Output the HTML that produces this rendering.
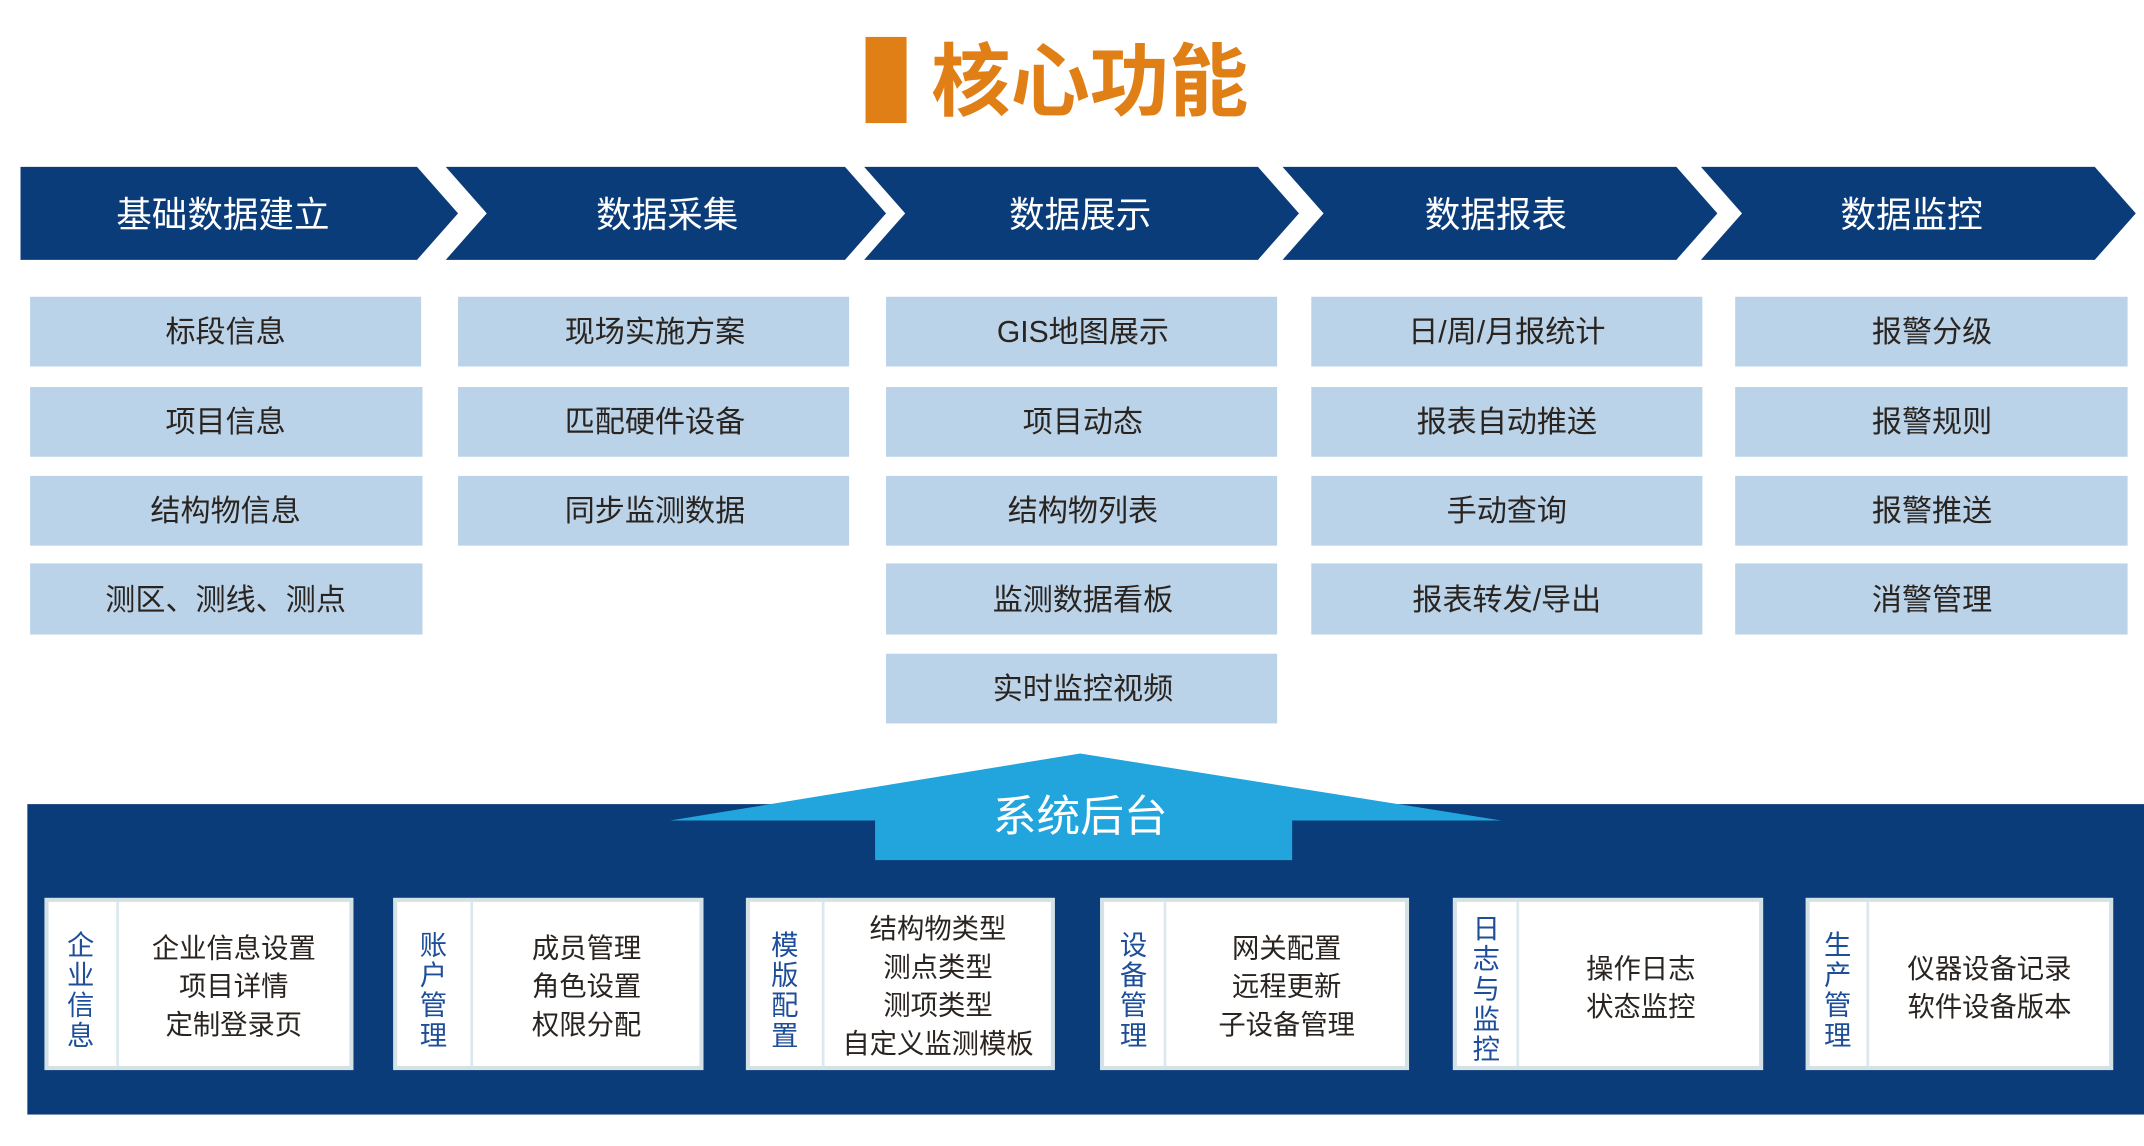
<!DOCTYPE html>
<html><head><meta charset="utf-8">
<style>
html,body{margin:0;padding:0;background:#fff;width:2144px;height:1146px;overflow:hidden}
svg{display:block}
text{font-family:"Liberation Sans","Noto Sans CJK SC",sans-serif}
</style></head><body>
<svg width="2144" height="1146" viewBox="0 0 1568 838" preserveAspectRatio="none" xmlns="http://www.w3.org/2000/svg">
<rect x="0" y="0" width="1568" height="838" fill="#fff"/>
<!-- title -->
<rect x="633" y="27" width="30" height="63" fill="#E07F16"/>
<text x="797" y="80" font-size="58" font-weight="bold" fill="#E07F16" text-anchor="middle">核心功能</text>
<!-- chevrons -->
<g fill="#0B3C7A">
<polygon points="15,122 305,122 335,156 305,190 15,190"/>
<polygon points="326,122 618,122 648,156 618,190 326,190 356,156"/>
<polygon points="632,122 920,122 950,156 920,190 632,190 662,156"/>
<polygon points="938,122 1226,122 1256,156 1226,190 938,190 968,156"/>
<polygon points="1244,122 1532,122 1562,156 1532,190 1244,190 1274,156"/>
</g>
<g fill="#fff" font-size="26" text-anchor="middle">
<text x="163" y="166">基础数据建立</text>
<text x="488" y="166">数据采集</text>
<text x="790" y="166">数据展示</text>
<text x="1094" y="166">数据报表</text>
<text x="1398" y="166">数据监控</text>
</g>
<!-- light boxes -->
<g fill="#BBD3E8">
<rect x="22" y="217" width="286" height="51"/><rect x="22" y="283" width="287" height="51"/><rect x="22" y="348" width="287" height="51"/><rect x="22" y="412" width="287" height="52"/>
<rect x="335" y="217" width="286" height="51"/><rect x="335" y="283" width="286" height="51"/><rect x="335" y="348" width="286" height="51"/>
<rect x="648" y="217" width="286" height="51"/><rect x="648" y="283" width="286" height="51"/><rect x="648" y="348" width="286" height="51"/><rect x="648" y="412" width="286" height="52"/><rect x="648" y="478" width="286" height="51"/>
<rect x="959" y="217" width="286" height="51"/><rect x="959" y="283" width="286" height="51"/><rect x="959" y="348" width="286" height="51"/><rect x="959" y="412" width="286" height="52"/>
<rect x="1269" y="217" width="287" height="51"/><rect x="1269" y="283" width="287" height="51"/><rect x="1269" y="348" width="287" height="51"/><rect x="1269" y="412" width="287" height="52"/>
</g>
<g fill="#2a2420" font-size="22" text-anchor="middle">
<text x="165" y="250">标段信息</text><text x="165" y="316">项目信息</text><text x="165" y="381">结构物信息</text><text x="165" y="446">测区、测线、测点</text>
<text x="479" y="250">现场实施方案</text><text x="479" y="316">匹配硬件设备</text><text x="479" y="381">同步监测数据</text>
<text x="792" y="250">GIS地图展示</text><text x="792" y="316">项目动态</text><text x="792" y="381">结构物列表</text><text x="792" y="446">监测数据看板</text><text x="792" y="511">实时监控视频</text>
<text x="1102" y="250">日/周/月报统计</text><text x="1102" y="316">报表自动推送</text><text x="1102" y="381">手动查询</text><text x="1102" y="446">报表转发/导出</text>
<text x="1413" y="250">报警分级</text><text x="1413" y="316">报警规则</text><text x="1413" y="381">报警推送</text><text x="1413" y="446">消警管理</text>
</g>
<!-- bottom panel -->
<rect x="20" y="588" width="1548" height="227" fill="#0B3C7A"/>
<polygon points="490,600 790,551 1098,600 945,600 945,629 640,629 640,600" fill="#22A4DC"/>
<text x="790" y="608" font-size="32" fill="#fff" text-anchor="middle">系统后台</text>
<!-- sub boxes -->
<g stroke="#D4E2E8" stroke-width="3">
<rect x="34" y="658" width="223" height="123" fill="#fff"/>
<rect x="289" y="658" width="224" height="123" fill="#fff"/>
<rect x="547" y="658" width="223" height="123" fill="#fff"/>
<rect x="806" y="658" width="223" height="123" fill="#fff"/>
<rect x="1064" y="658" width="224" height="123" fill="#fff"/>
<rect x="1322" y="658" width="222" height="123" fill="#fff"/>
</g>
<g stroke="#DCE8EE" stroke-width="2">
<line x1="86" y1="659" x2="86" y2="780"/>
<line x1="345" y1="659" x2="345" y2="780"/>
<line x1="602" y1="659" x2="602" y2="780"/>
<line x1="852" y1="659" x2="852" y2="780"/>
<line x1="1110" y1="659" x2="1110" y2="780"/>
<line x1="1366" y1="659" x2="1366" y2="780"/>
</g>
<g fill="#1E4E9A" font-size="20" text-anchor="middle">
<text x="59" y="698">企</text><text x="59" y="720">业</text><text x="59" y="742">信</text><text x="59" y="764">息</text>
<text x="317" y="698">账</text><text x="317" y="720">户</text><text x="317" y="742">管</text><text x="317" y="764">理</text>
<text x="574" y="698">模</text><text x="574" y="720">版</text><text x="574" y="742">配</text><text x="574" y="764">置</text>
<text x="829" y="698">设</text><text x="829" y="720">备</text><text x="829" y="742">管</text><text x="829" y="764">理</text>
<text x="1087" y="686">日</text><text x="1087" y="708">志</text><text x="1087" y="730">与</text><text x="1087" y="752">监</text><text x="1087" y="774">控</text>
<text x="1344" y="698">生</text><text x="1344" y="720">产</text><text x="1344" y="742">管</text><text x="1344" y="764">理</text>
</g>
<g fill="#2a2420" font-size="20" text-anchor="middle">
<text x="171" y="700">企业信息设置</text><text x="171" y="728">项目详情</text><text x="171" y="756">定制登录页</text>
<text x="429" y="700">成员管理</text><text x="429" y="728">角色设置</text><text x="429" y="756">权限分配</text>
<text x="686" y="686">结构物类型</text><text x="686" y="714">测点类型</text><text x="686" y="742">测项类型</text><text x="686" y="770">自定义监测模板</text>
<text x="941" y="700">网关配置</text><text x="941" y="728">远程更新</text><text x="941" y="756">子设备管理</text>
<text x="1200" y="715">操作日志</text><text x="1200" y="743">状态监控</text>
<text x="1455" y="715">仪器设备记录</text><text x="1455" y="743">软件设备版本</text>
</g>
</svg>
</body></html>
